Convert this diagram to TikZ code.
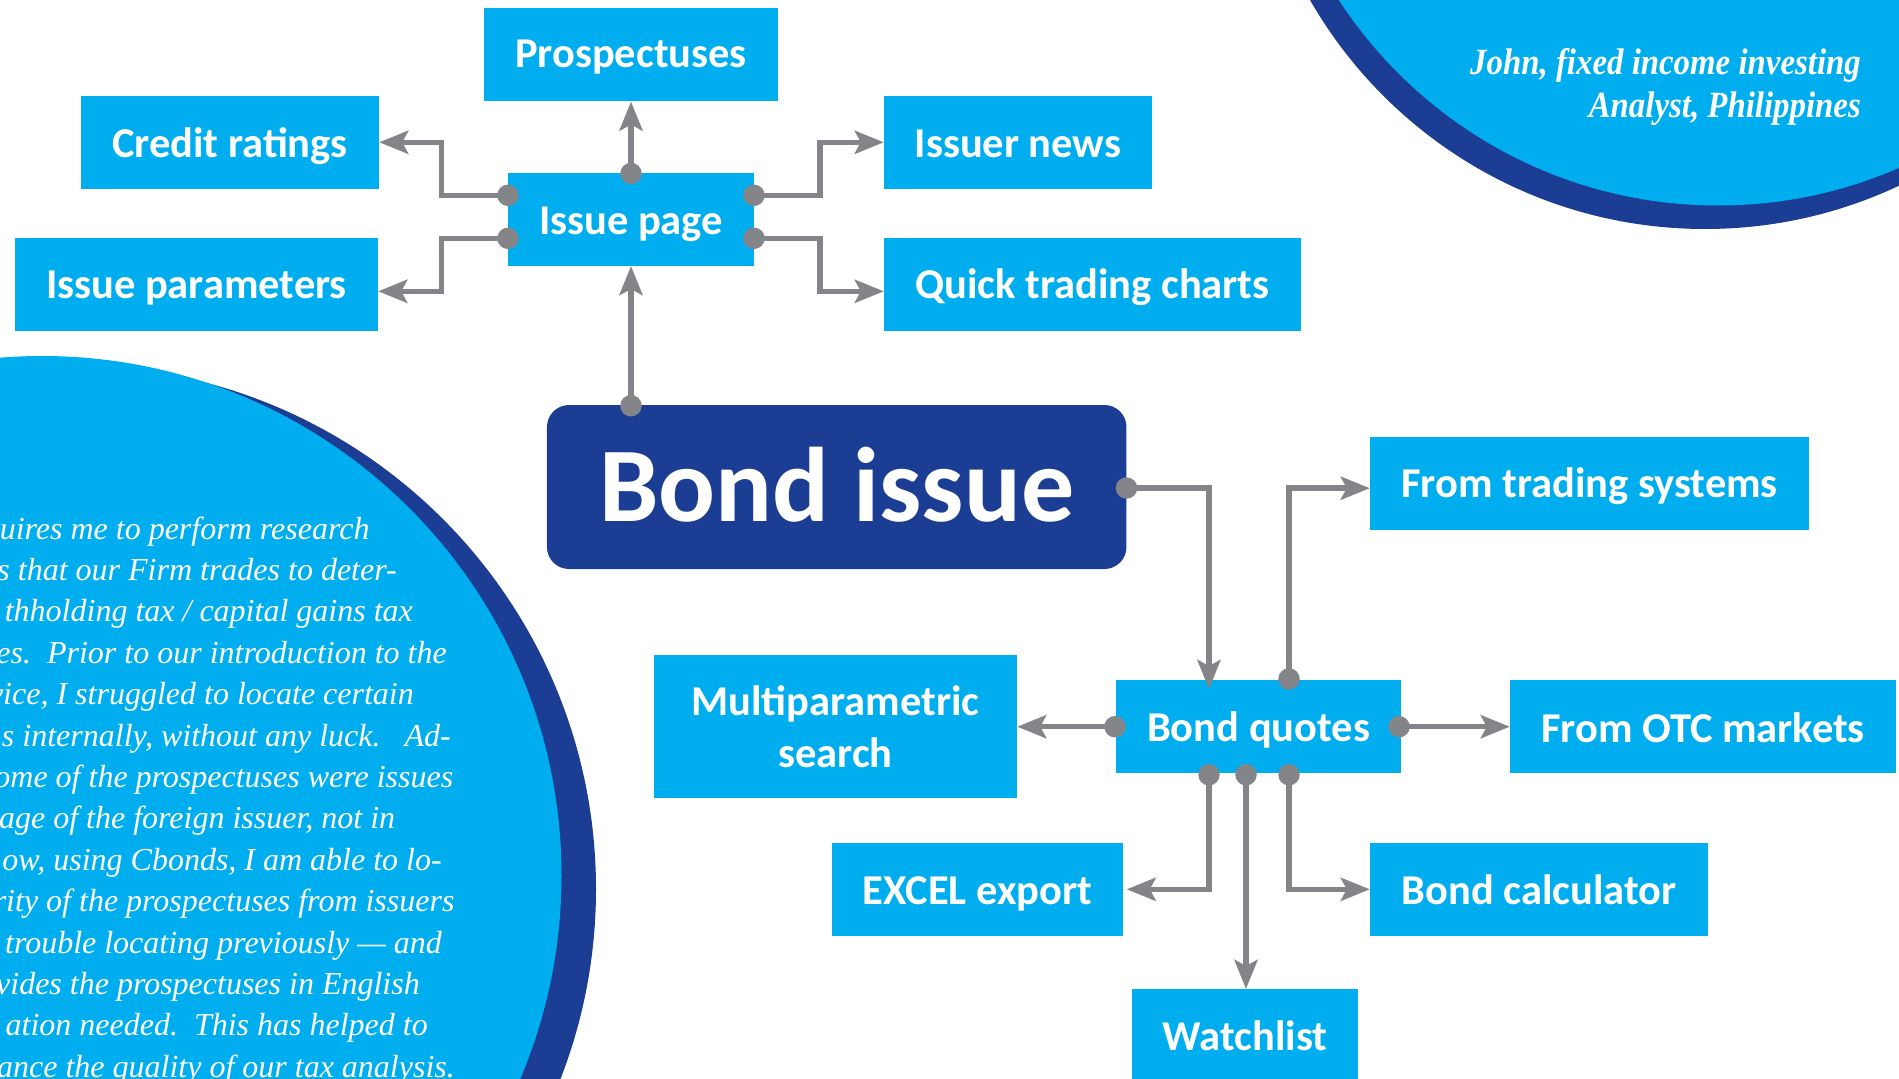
\documentclass[tikz,border=0pt]{standalone}
\usepackage{fontspec}
\setmainfont{Liberation Serif}
\newfontfamily\cbf{Carlito}
\usetikzlibrary{arrows.meta,calc}
\definecolor{cyanbox}{HTML}{00AEEF}
\definecolor{navy}{HTML}{1C3D94}
\definecolor{conn}{HTML}{838588}
\tikzset{
  bx/.style={fill=cyanbox,text=white,inner sep=0pt,minimum height=92.7pt,font=\cbf\bfseries\fontsize{42.5}{52}\selectfont},
  one/.style={bx,text height=32pt,text depth=2pt},
  upper/.style={text height=31pt,text depth=3.4pt},
  dot/.style={circle,fill=conn,inner sep=0pt,minimum size=21.5pt},
  link/.style={draw=conn,line width=5.5pt,-{Stealth[length=29pt,width=23pt,inset=6pt]}},
  quote/.style={anchor=base east,text=white,font=\itshape\fontsize{32}{38}\selectfont,inner sep=0pt},
  head/.style={anchor=base east,text=white,font=\itshape\bfseries\fontsize{37}{44}\selectfont,inner sep=0pt,xscale=.888},
}
\begin{document}
\begin{tikzpicture}[x=1pt,y=-1pt]
\useasboundingbox (0,0) rectangle (1899,1079);
\clip (0,0) rectangle (1899,1079);
% discs
\fill[navy] (72.5,889) circle (523.5);
\fill[cyanbox] (42,875.5) circle (519.5);
\fill[navy] (1705,-226) circle (455);
\fill[cyanbox] (1718,-247) circle (452.5);
% quote text
\node[head] (h1) at (1861,74) {John, fixed income investing};
\node[head] (h2) at (1861,117) {Analyst, Philippines};
\node[quote] (q1) at (369.7,539) {uires me to perform research};
\node[quote] (q2) at (397,580.4) {s that our Firm trades to deter-};
\node[quote] (q3) at (413,621.8) {thholding tax / capital gains tax};
\node[quote] (q4) at (447,663.2) {es.\ \ Prior to our introduction to the};
\node[quote] (q5) at (414,704.6) {vice, I struggled to locate certain};
\node[quote] (q6) at (451,746) {s internally, without any luck.\ \ \ Ad-};
\node[quote] (q7) at (453.5,787.4) {ome of the prospectuses were issues};
\node[quote] (q8) at (395.4,828.8) {age of the foreign issuer, not in};
\node[quote] (q9) at (442,870.2) {ow, using Cbonds, I am able to lo-};
\node[quote] (q10) at (454.7,911.6) {rity of the prospectuses from issuers};
\node[quote] (q11) at (442,953) {d trouble locating previously --- and};
\node[quote] (q12) at (420,994.4) {vides the prospectuses in English};
\node[quote] (q13) at (428,1035.8) {ation needed.\ \ This has helped to};
\node[quote] (q14) at (455,1077.2) {ance the quality of our tax analysis.};
% boxes
\node[one,minimum width=294pt,minimum height=93.5pt,text height=30pt,text depth=3.6pt] (pros) at (631,54.6) {Prospectuses};
\node[one,minimum width=298pt] (cred) at (230,142.3) {Credit ratings};
\node[one,upper,minimum width=363pt] (ipar) at (196.5,284.4) {Issue parameters};
\node[one,minimum width=246pt] (ipage) at (631,219.4) {Issue page};
\node[one,minimum width=268pt] (news) at (1018,142.3) {Issuer news};
\node[one,upper,minimum width=417pt] (chart) at (1092.5,284.4) {Quick trading charts};
\node[one,upper,minimum width=439pt] (trad) at (1589.5,483.3) {From trading systems};
\node[bx,align=center,minimum width=363pt,minimum height=143pt] (multi) at (835.5,726.7) {Multiparametric\\search};
\node[one,minimum width=285pt] (quotes) at (1258.5,726.3) {Bond quotes};
\node[one,minimum width=386pt,text height=33.5pt,text depth=.5pt] (otc) at (1703,726.3) {From OTC markets};
\node[one,minimum width=291pt] (excel) at (977.5,889.3) {EXCEL export};
\node[one,minimum width=338pt] (calc) at (1539,889.3) {Bond calculator};
\node[one,minimum width=226pt] (watch) at (1245,1035.5) {Watchlist};
\node[fill=navy,rounded corners=22pt,text=white,inner sep=0pt,minimum width=579.5pt,minimum height=164pt,text height=72pt,text depth=4pt,font=\cbf\bfseries\fontsize{106}{120}\selectfont] (bond) at (836.7,487) {Bond issue};
% connector ends
\coordinate (vA) at (441.4,195.3);
\coordinate (vB) at (441.4,238.3);
\coordinate (vC) at (820,195.3);
\coordinate (vD) at (820,238.3);
\coordinate (tB) at ($(ipar.east)+(0,6.9)$);
\coordinate (tD) at ($(chart.west)+(0,6.9)$);
\coordinate (tT) at ($(trad.west)+(0,4.9)$);
\coordinate (tQ) at (1209,689);
\coordinate (tI) at (631,266);
\coordinate (tX) at (1126.7,889.3);
% dots
\node[dot] (dP) at (631,173.5) {};
\node[dot] (dA) at (508,195.3) {};
\node[dot] (dB) at (508,238.3) {};
\node[dot] (dC) at (754,195.3) {};
\node[dot] (dD) at (754,238.3) {};
\node[dot] (dI) at (631,405.7) {};
\node[dot] (dQ) at (1126.5,488) {};
\node[dot] (dT) at (1289,679) {};
\node[dot] (dM) at (1115,726.7) {};
\node[dot] (dO) at (1399,726.7) {};
\node[dot] (dE) at (1209,774.7) {};
\node[dot] (dW) at (1246,774.7) {};
\node[dot] (dK) at (1289,774.7) {};
% connectors
\draw[link] (dP.center) -- (pros.south);
\draw[link] (dI.center) -- (tI);
\draw[link] (dA.center) -- (vA) -- (vA |- cred.east) -- (cred.east);
\draw[link] (dB.center) -- (vB) -- (vB |- tB) -- (tB);
\draw[link] (dC.center) -- (vC) -- (vC |- news.west) -- (news.west);
\draw[link] (dD.center) -- (vD) -- (vD |- tD) -- (tD);
\draw[link] (dQ.center) -- (dQ -| tQ) -- (tQ);
\draw[link] (dT.center) -- (dT |- tT) -- (tT);
\draw[link] (dM.center) -- (multi.east |- dM);
\draw[link] (dO.center) -- (otc.west |- dO);
\draw[link] (dE.center) -- (dE |- tX) -- (tX);
\draw[link] (dW.center) -- (dW |- watch.north);
\draw[link] (dK.center) -- (dK |- calc.west) -- (calc.west);
\end{tikzpicture}
\end{document}
